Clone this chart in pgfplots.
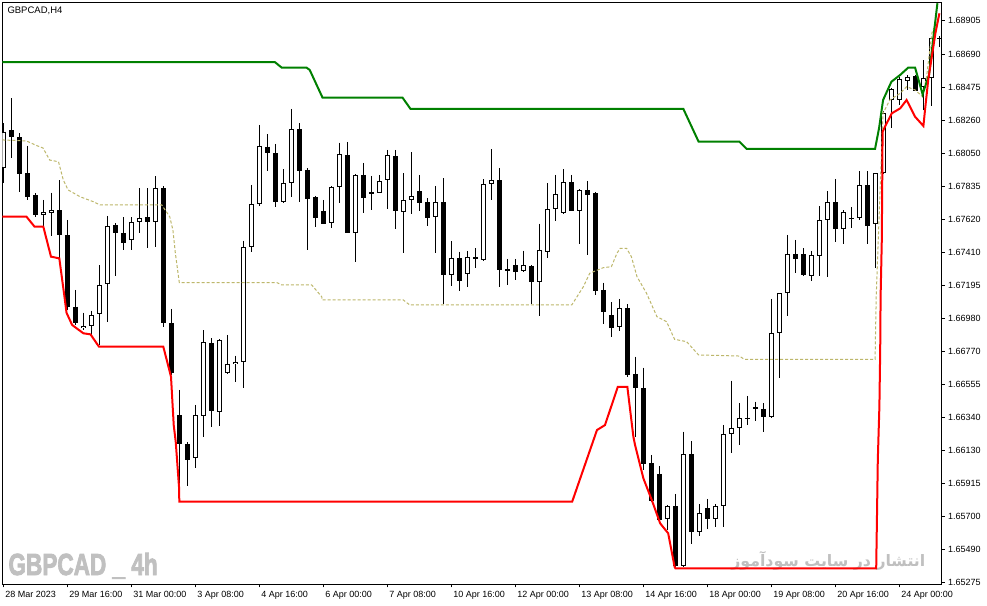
\documentclass[border=0pt]{standalone}
\usepackage{fontspec}
\setmainfont{Liberation Sans}
\newfontfamily\arabicfont[Script=Arabic]{DejaVu Sans}
\newfontfamily\wmfont[BoldFeatures={FakeBold=3}]{Liberation Sans}
\usepackage{graphicx}
\usepackage{pgfplots}
\usepackage{pgfplotstable}
\pgfplotsset{compat=1.18}
\TeXXeTstate=1

\definecolor{mtgreen}{RGB}{0,128,0}
\definecolor{mtred}{RGB}{255,0,0}
\definecolor{mtkhaki}{RGB}{189,183,107}
\definecolor{wmark}{RGB}{192,192,192}

% bullish candles: bar index, open, high, low, close
\pgfplotstableread{
x o h l c
0 1.67952 1.68244 1.67857 1.68188
5 1.67650 1.67747 1.67579 1.67668
6 1.67661 1.67794 1.67514 1.67681
10 1.66918 1.67019 1.66907 1.66933
11 1.66933 1.67032 1.66875 1.67004
12 1.67011 1.67327 1.66810 1.67196
13 1.67202 1.67644 1.66961 1.67577
16 1.67489 1.67635 1.67424 1.67603
17 1.67603 1.67823 1.67532 1.67629
19 1.67603 1.67900 1.67445 1.67823
24 1.66078 1.66423 1.66018 1.66358
25 1.66354 1.66907 1.66218 1.66828
27 1.66379 1.66849 1.66287 1.66843
28 1.66628 1.66875 1.66623 1.66688
29 1.66688 1.66741 1.66573 1.66702
30 1.66699 1.67484 1.66535 1.67441
31 1.67441 1.67844 1.67409 1.67721
32 1.67721 1.68232 1.67708 1.68096
35 1.67736 1.67945 1.67728 1.67855
36 1.67855 1.68335 1.67768 1.68204
41 1.67600 1.67839 1.67568 1.67833
42 1.67829 1.68117 1.67730 1.68042
44 1.67536 1.67915 1.67348 1.67909
47 1.67794 1.67909 1.67792 1.67868
48 1.67874 1.68070 1.67691 1.68036
50 1.67671 1.67921 1.67407 1.67745
51 1.67745 1.68057 1.67659 1.67773
54 1.67635 1.67839 1.67407 1.67732
56 1.67264 1.67482 1.67191 1.67370
58 1.67271 1.67418 1.67187 1.67377
60 1.67359 1.67881 1.67355 1.67848
61 1.67848 1.68076 1.67747 1.67874
65 1.67286 1.67420 1.67285 1.67325
67 1.67219 1.67594 1.66998 1.67424
68 1.67413 1.67855 1.67370 1.67687
69 1.67687 1.67909 1.67611 1.67784
70 1.67665 1.67947 1.67659 1.67861
72 1.67678 1.67818 1.67463 1.67810
77 1.66925 1.67108 1.66903 1.67047
83 1.65684 1.65777 1.65615 1.65768
85 1.65383 1.66250 1.65374 1.66104
87 1.65600 1.65781 1.65578 1.65723
89 1.65684 1.65783 1.65637 1.65768
90 1.65768 1.66294 1.65637 1.66233
91 1.66233 1.66580 1.66111 1.66274
92 1.66272 1.66434 1.66164 1.66337
96 1.66347 1.67108 1.66341 1.66886
97 1.66886 1.67146 1.66599 1.67144
98 1.67144 1.67521 1.66998 1.67396
101 1.67258 1.67418 1.67226 1.67390
102 1.67387 1.67708 1.67258 1.67616
103 1.67616 1.67805 1.67252 1.67732
105 1.67562 1.67682 1.67461 1.67668
107 1.67629 1.67934 1.67616 1.67842
109 1.67590 1.67919 1.67310 1.67919
110 1.67919 1.68322 1.67915 1.68307
111 1.68393 1.68469 1.68210 1.68462
112 1.68393 1.68544 1.68361 1.68529
113 1.68518 1.68555 1.68458 1.68544
115 1.68475 1.68651 1.68328 1.68533
116 1.68533 1.68794 1.68354 1.68792
}\bull

% bearish candles
\pgfplotstableread{
x o h l c
1 1.68199 1.68404 1.68016 1.68152
2 1.68152 1.68178 1.67801 1.67913
3 1.67919 1.68098 1.67747 1.67764
4 1.67779 1.67792 1.67637 1.67650
7 1.67681 1.67876 1.67372 1.67519
8 1.67519 1.67618 1.67036 1.67058
9 1.67058 1.67166 1.66940 1.66951
14 1.67584 1.67597 1.67256 1.67532
15 1.67532 1.67635 1.67424 1.67467
18 1.67637 1.67823 1.67435 1.67603
20 1.67823 1.67837 1.66927 1.66951
21 1.66951 1.67043 1.66617 1.66628
22 1.66358 1.66520 1.65895 1.66169
23 1.66171 1.66182 1.65901 1.66067
26 1.66821 1.66854 1.66283 1.66386
33 1.68091 1.68171 1.67936 1.68053
34 1.68049 1.68109 1.67704 1.67736
37 1.68204 1.68243 1.67732 1.67936
38 1.67941 1.67952 1.67424 1.67755
39 1.67766 1.67773 1.67575 1.67633
40 1.67676 1.67747 1.67590 1.67594
43 1.68038 1.68122 1.67531 1.67536
45 1.67909 1.67986 1.67665 1.67762
46 1.67799 1.67902 1.67682 1.67788
49 1.68031 1.68070 1.67562 1.67678
52 1.67805 1.67909 1.67678 1.67730
53 1.67732 1.67758 1.67581 1.67633
55 1.67732 1.67889 1.67075 1.67264
57 1.67370 1.67413 1.67161 1.67226
59 1.67379 1.67435 1.67310 1.67364
62 1.67874 1.67954 1.67187 1.67297
63 1.67301 1.67366 1.67198 1.67290
64 1.67327 1.67366 1.67230 1.67284
66 1.67321 1.67324 1.67075 1.67219
71 1.67861 1.67909 1.67673 1.67676
73 1.67810 1.67870 1.67392 1.67781
74 1.67792 1.67797 1.67133 1.67161
75 1.67166 1.67213 1.66946 1.67025
76 1.67002 1.67088 1.66864 1.66922
78 1.67047 1.67075 1.66602 1.66617
79 1.66623 1.66735 1.66218 1.66535
80 1.66531 1.66664 1.66003 1.66040
81 1.66046 1.66100 1.65799 1.65805
82 1.65977 1.66029 1.65677 1.65680
84 1.65768 1.65848 1.65379 1.65383
86 1.66104 1.66190 1.65525 1.65600
88 1.65755 1.65816 1.65622 1.65684
93 1.66341 1.66481 1.66294 1.66330
94 1.66408 1.66444 1.66321 1.66395
95 1.66397 1.66434 1.66250 1.66347
99 1.67396 1.67489 1.67274 1.67366
100 1.67396 1.67435 1.67256 1.67263
104 1.67732 1.67883 1.67474 1.67562
106 1.67631 1.67700 1.67568 1.67628
108 1.67842 1.67934 1.67461 1.67581
114 1.68548 1.68555 1.68448 1.68453
117 1.68792 1.68806 1.68737 1.68787
}\bear

\begin{document}
\begin{tikzpicture}
\useasboundingbox (0,0) rectangle (987pt,605pt);
\fill[white] (0,0) rectangle (987pt,605pt);

% watermarks sit under the chart
\node[anchor=base west, inner sep=0pt, text=wmark] at (8.3pt,30pt)
  {\scalebox{0.74}[1]{\wmfont\fontsize{30.5}{34}\selectfont\bfseries GBPCAD \_ 4h}};
\node[anchor=base east, inner sep=0pt, text=wmark] at (925.5pt,38.5pt)
  {\resizebox{194pt}{!}{\arabicfont\fontsize{20}{24}\selectfont\bfseries\beginR انتشار در سایت سودآموز\endR}};

\begin{axis}[
  at={(2.3pt,21pt)}, anchor=south west,
  scale only axis, width=938.7pt, height=581.7pt,
  xmin=-0.125, xmax=117.2,
  ymin=1.652664, ymax=1.690241,
  axis line style={black, line width=1pt},
  tick align=outside,
  major tick length=3.5pt,
  tick style={black, line width=1pt},
  xtick pos=left, ytick pos=right,
  xtick={0,8,...,112},
  xticklabels={28 Mar 2023,29 Mar 16:00,31 Mar 00:00,3 Apr 08:00,4 Apr 16:00,6 Apr 00:00,7 Apr 08:00,10 Apr 16:00,12 Apr 00:00,13 Apr 08:00,14 Apr 16:00,18 Apr 00:00,19 Apr 08:00,20 Apr 16:00,24 Apr 00:00},
  ytick={1.68905,1.68690,1.68475,1.68260,1.68050,1.67835,1.67620,1.67410,1.67195,1.66980,1.66770,1.66555,1.66340,1.66130,1.65915,1.65700,1.65490,1.65275},
  yticklabels={1.68905,1.68690,1.68475,1.68260,1.68050,1.67835,1.67620,1.67410,1.67195,1.66980,1.66770,1.66555,1.66340,1.66130,1.65915,1.65700,1.65490,1.65275},
  tick label style={font=\fontsize{9}{10}\selectfont, black},
  xticklabel style={anchor=north west, xshift=-1.5pt},
  yticklabel style={anchor=west},
]

% wicks
\addplot[forget plot, draw=none, mark=none,
  error bars/.cd, y dir=minus, y explicit, error mark=none,
  error bar style={draw=black, line width=1pt}]
  table[x=x, y=h, y error minus expr=\thisrow{h}-\thisrow{l}] {\bull};
\addplot[forget plot, draw=none, mark=none,
  error bars/.cd, y dir=minus, y explicit, error mark=none,
  error bar style={draw=black, line width=1pt}]
  table[x=x, y=h, y error minus expr=\thisrow{h}-\thisrow{l}] {\bear};

% bearish bodies
\addplot[forget plot, draw=none, mark=none,
  error bars/.cd, y dir=minus, y explicit, error mark=none,
  error bar style={draw=black, line width=5pt}]
  table[x=x, y=o, y error minus expr=\thisrow{o}-\thisrow{c}] {\bear};

% bullish bodies: black frame, white inside
\addplot[forget plot, draw=none, mark=none,
  error bars/.cd, y dir=minus, y explicit, error mark=none,
  error bar style={draw=black, line width=5pt}]
  table[x=x, y=c, y error minus expr=\thisrow{c}-\thisrow{o}] {\bull};
\addplot[forget plot, draw=none, mark=none,
  error bars/.cd, y dir=minus, y explicit, error mark=none,
  error bar style={draw=white, line width=3pt, shorten <=1pt, shorten >=1pt}]
  table[x=x, y=c, y error minus expr=\thisrow{c}-\thisrow{o}] {\bull};

% middle line
\addplot[mtkhaki, line width=1pt, dash pattern=on 3pt off 2pt] coordinates {
(-0.125,1.68135) (2.9,1.68128) (4.2,1.68098) (4.96,1.68083) (5.8,1.68005)
(6.9,1.67994) (7.5,1.67876) (8.1,1.67812) (9.6,1.67768) (11.25,1.67736)
(12.1,1.67715) (19.8,1.67715) (20.8,1.67639) (21.2,1.67553) (21.5,1.67405)
(22.0,1.67213) (34.2,1.67213) (34.8,1.67198) (38.55,1.67198) (39.8,1.67122)
(39.85,1.67101) (50.0,1.67101) (50.8,1.67069) (71.05,1.67069) (72.5,1.67187)
(73.3,1.67274) (75.0,1.67310) (76.0,1.67316) (76.7,1.67403) (77.1,1.67435)
(77.9,1.67435) (78.5,1.67381) (79.2,1.67252) (80.4,1.67144) (81.7,1.66993)
(82.9,1.66961) (83.9,1.66847) (85.4,1.66832) (86.9,1.66746) (92.0,1.66739)
(92.6,1.66718) (108.96,1.66718) (109.1,1.67122) (109.6,1.67833) (109.95,1.68307)
(110.8,1.68393) (112.1,1.68436) (112.9,1.68479) (113.96,1.68458) (114.9,1.68414)
(115.4,1.68544) (116.05,1.68824) (116.9,1.68931)
};

% upper line
\addplot[mtgreen, line width=2pt] coordinates {
(-0.125,1.68637) (33.96,1.68637) (34.8,1.68602) (37.9,1.68602) (38.3,1.68587)
(39.9,1.68408) (49.9,1.68408) (50.9,1.68335) (85.0,1.68335) (86.9,1.68124)
(92.0,1.68124) (92.9,1.68078) (108.96,1.68078) (109.46,1.68212) (109.96,1.68393)
(111.0,1.68511) (112.1,1.68555) (113.1,1.68602) (113.96,1.68602) (114.9,1.68430)
(115.7,1.68555) (116.75,1.69018)
};

% lower line
\addplot[mtred, line width=2pt] coordinates {
(-0.125,1.67639) (2.9,1.67639) (3.9,1.67575) (5.0,1.67575) (5.96,1.67381)
(7.0,1.67370) (7.7,1.67101) (7.9,1.67019) (8.6,1.66940) (10.0,1.66886)
(10.9,1.66879) (11.96,1.66799) (20.0,1.66799) (20.96,1.66606) (21.3,1.66293)
(21.55,1.66186) (21.96,1.65895) (22.0,1.65798) (71.1,1.65798) (74.2,1.66261)
(75.2,1.66293) (76.8,1.66539) (78.0,1.66539) (78.75,1.66218) (78.96,1.66164)
(80.0,1.65949) (81.05,1.65809) (82.1,1.65658) (83.1,1.65594) (83.9,1.65378)
(84.0,1.65368) (109.1,1.65368) (109.2,1.65712) (109.3,1.66067) (109.5,1.66416)
(109.6,1.66778) (109.65,1.67122) (109.8,1.67489) (109.9,1.68188) (110.2,1.68221)
(111.05,1.68307) (112.1,1.68339) (112.9,1.68393) (113.96,1.68285) (115.0,1.68225)
(115.2,1.68328) (115.6,1.68522) (116.5,1.68824) (117.0,1.68953)
};
\end{axis}

\node[anchor=base west, inner sep=0pt, font=\fontsize{9.5}{10}\selectfont] at (7.3pt,591pt) {GBPCAD,H4};
\end{tikzpicture}
\end{document}
